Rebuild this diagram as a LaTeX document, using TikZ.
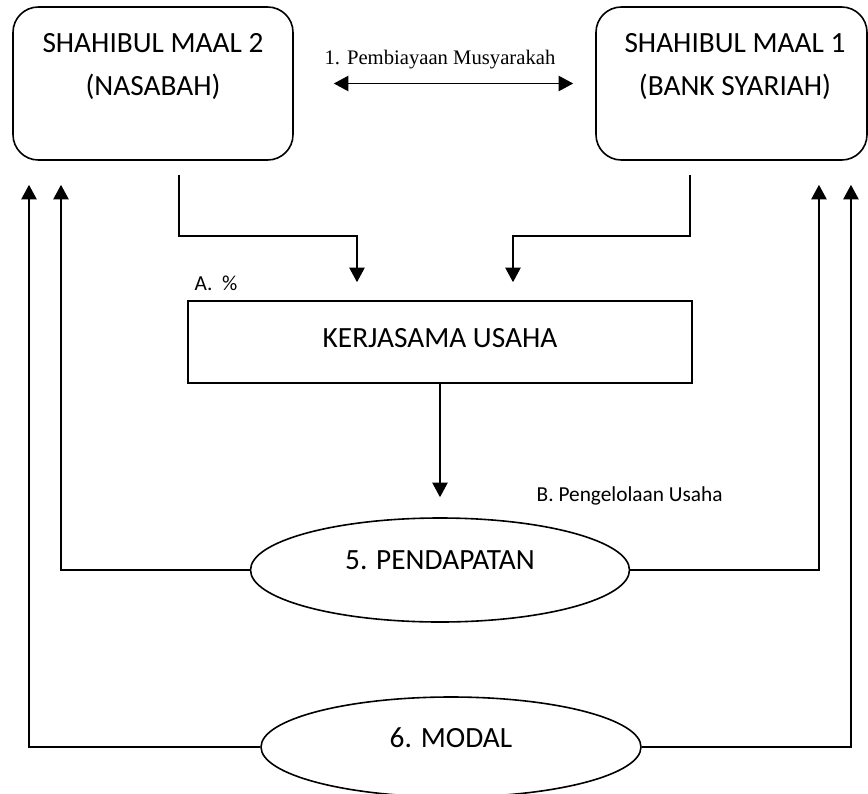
\documentclass[tikz,border=0pt]{standalone}
\usepackage{fontspec}
\setmainfont{Carlito}
\newfontfamily\timesfont{Liberation Serif}
\usetikzlibrary{arrows.meta,shapes.geometric}
\tikzset{%
  panel/.style     = {shape=rectangle, rounded corners=19pt, draw,%
                      line width=1.2pt, minimum height=114.75pt},%
  paneltext/.style = {align=center, font=\fontsize{22}{32.25}\selectfont},%
  usaha/.style     = {shape=rectangle, draw, line width=1.2pt,%
                      minimum width=378pt, minimum height=61.5pt,%
                      font=\fontsize{22}{26}\selectfont,%
                      text height=16pt, text depth=7.8pt},%
  hasil/.style     = {shape=ellipse, draw, line width=1.2pt, inner sep=0pt,%
                      font=\fontsize{22}{26}\selectfont},%
  note/.style      = {font=\fontsize{16}{19}\selectfont},%
  arr/.style       = {-{Triangle[length=11pt,width=11.5pt]}, line width=1.3pt}%
}
\begin{document}
\begin{tikzpicture}[x=0.75pt, y=-0.75pt]
  \useasboundingbox (0,0) rectangle (868,793);
  % -------------- SHAHIBUL MAAL -----------------------------
  \node[panel, minimum width=210pt] (nasabah) at (153,83.5) {};
  \node[paneltext] (nasabahtxt) at (153,67) {SHAHIBUL MAAL 2\\(NASABAH)};
  \node[panel, minimum width=203.25pt] (bank) at (731.5,83.5) {};
  \node[paneltext] (banktxt) at (735,67) {SHAHIBUL MAAL 1\\(BANK SYARIAH)};
  \draw[{Triangle[length=11pt,width=11.5pt]}-{Triangle[length=11pt,width=11.5pt]},
        line width=1.3pt, shorten <=30pt, shorten >=16.5pt]
  (nasabah) -- (bank);
  \node[font=\timesfont\fontsize{15.5}{18}\selectfont] (akad) at (440,60)
  {1. Pembiayaan Musyarakah};
  % -------------- KERJASAMA USAHA -----------------------------
  \node[usaha] (kerja) at (440,342) {KERJASAMA USAHA};
  \node[note, anchor=west] (nisbah) at (190,283) {A.\ \ \%};
  \draw[arr] ([xshift=19.5pt,yshift=-10.5pt]nasabah.south) -- ++(0,61)
  -| ([xshift=-62.25pt,yshift=13.5pt]kerja.north);
  \draw[arr] ([xshift=-31.1pt,yshift=-10.5pt]bank.south) -- ++(0,61)
  -| ([xshift=54.75pt,yshift=13.5pt]kerja.north);
  % -------------- PENDAPATAN & MODAL -----------------------------
  \node[hasil, minimum width=284.25pt, minimum height=78pt,
        text height=14pt, text depth=14.8pt] (pendapatan) at (440,570) {5. PENDAPATAN};
  \node[hasil, minimum width=285pt, minimum height=75pt,
        text height=14pt, text depth=13.3pt] (modal) at (451,747) {6. MODAL};
  \node[note, anchor=west] (kelola) at (532,496) {B. Pengelolaan Usaha};
  \draw[arr, shorten >=15pt] (kerja) -- (pendapatan);
  \draw[arr] (pendapatan.west) -| ([xshift=-69pt,yshift=-18pt]nasabah.south);
  \draw[arr] (pendapatan.east) -| ([xshift=65.6pt,yshift=-18pt]bank.south);
  \draw[arr] (modal.west) -| ([xshift=-93pt,yshift=-18pt]nasabah.south);
  \draw[arr] (modal.east) -| ([xshift=89.6pt,yshift=-18pt]bank.south);
\end{tikzpicture}
\end{document}
